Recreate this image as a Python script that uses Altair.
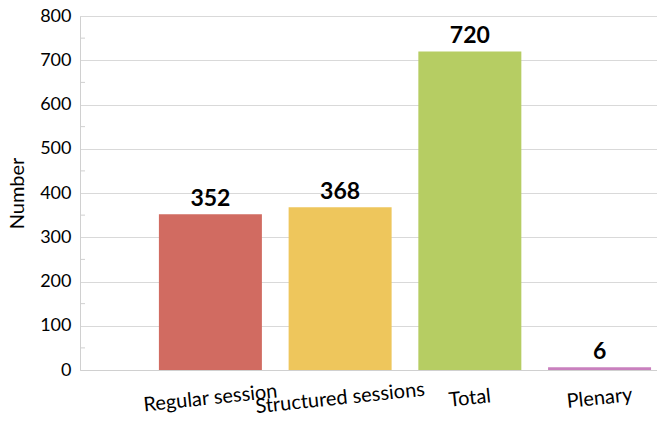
import altair as alt
import pandas as pd

categories = ["Regular session", "Structured sessions", "Total", "Plenary"]
values = [352, 368, 720, 6]
colors = ["#d16b61", "#eec65c", "#b6cd63", "#c980be"]
y_ticks = [0, 100, 200, 300, 400, 500, 600, 700, 800]
minor_ticks = [50, 150, 250, 350, 450, 550, 650, 750]

FONT = "Lato"

df = pd.DataFrame({"cat": categories, "value": values, "color": colors})
minor_df = pd.DataFrame({"v": minor_ticks})

x_enc = alt.X(
    "cat:N",
    sort=categories,
    scale=alt.Scale(paddingInner=0.206, paddingOuter=0.327, align=0.93),
    axis=alt.Axis(
        title=None,
        labelAngle=354,
        labelAlign="center",
        labelBaseline="middle",
        labelPadding=28,
        ticks=False,
        labelFont=FONT,
        labelFontSize=20,
        labelColor="#000000",
        domainColor="#d0d0d0",
        grid=False,
        labelOverlap=False,
    ),
)
y_scale = alt.Scale(domain=[0, 800], nice=False)

bars = alt.Chart(df).mark_bar().encode(
    x=x_enc,
    y=alt.Y(
        "value:Q",
        scale=y_scale,
        axis=alt.Axis(
            title="Number",
            values=y_ticks,
            ticks=False,
            labelPadding=9,
            labelFont=FONT,
            labelFontSize=18,
            labelColor="#000000",
            titleFont=FONT,
            titleFontSize=20,
            titleFontWeight="normal",
            titleColor="#000000",
            titlePadding=12,
            domainColor="#d0d0d0",
            gridColor="#d9d9d9",
        ),
    ),
    color=alt.Color("color:N", scale=None),
)

text = alt.Chart(df).mark_text(
    font=FONT, fontSize=23, fontWeight="bold", color="#000000", baseline="alphabetic", dy=-8
).encode(
    x=alt.X("cat:N", sort=categories),
    y=alt.Y("value:Q", scale=y_scale),
    text=alt.Text("value:Q"),
)

minor = alt.Chart(minor_df).mark_rule(color="#d0d0d0").encode(
    y=alt.Y("v:Q", scale=y_scale),
    x=alt.value(0),
    x2=alt.value(5),
)

chart = (
    alt.layer(bars, text, minor)
    .properties(
        width=577,
        height=354,
        autosize=alt.AutoSizeParams(type="none"),
        padding={"left": 80, "top": 16, "right": 0, "bottom": 53},
    )
    .configure_view(stroke=None)
    .configure(background="#ffffff")
)

chart.save("out.html", embed_options={"renderer": "svg", "actions": False})
